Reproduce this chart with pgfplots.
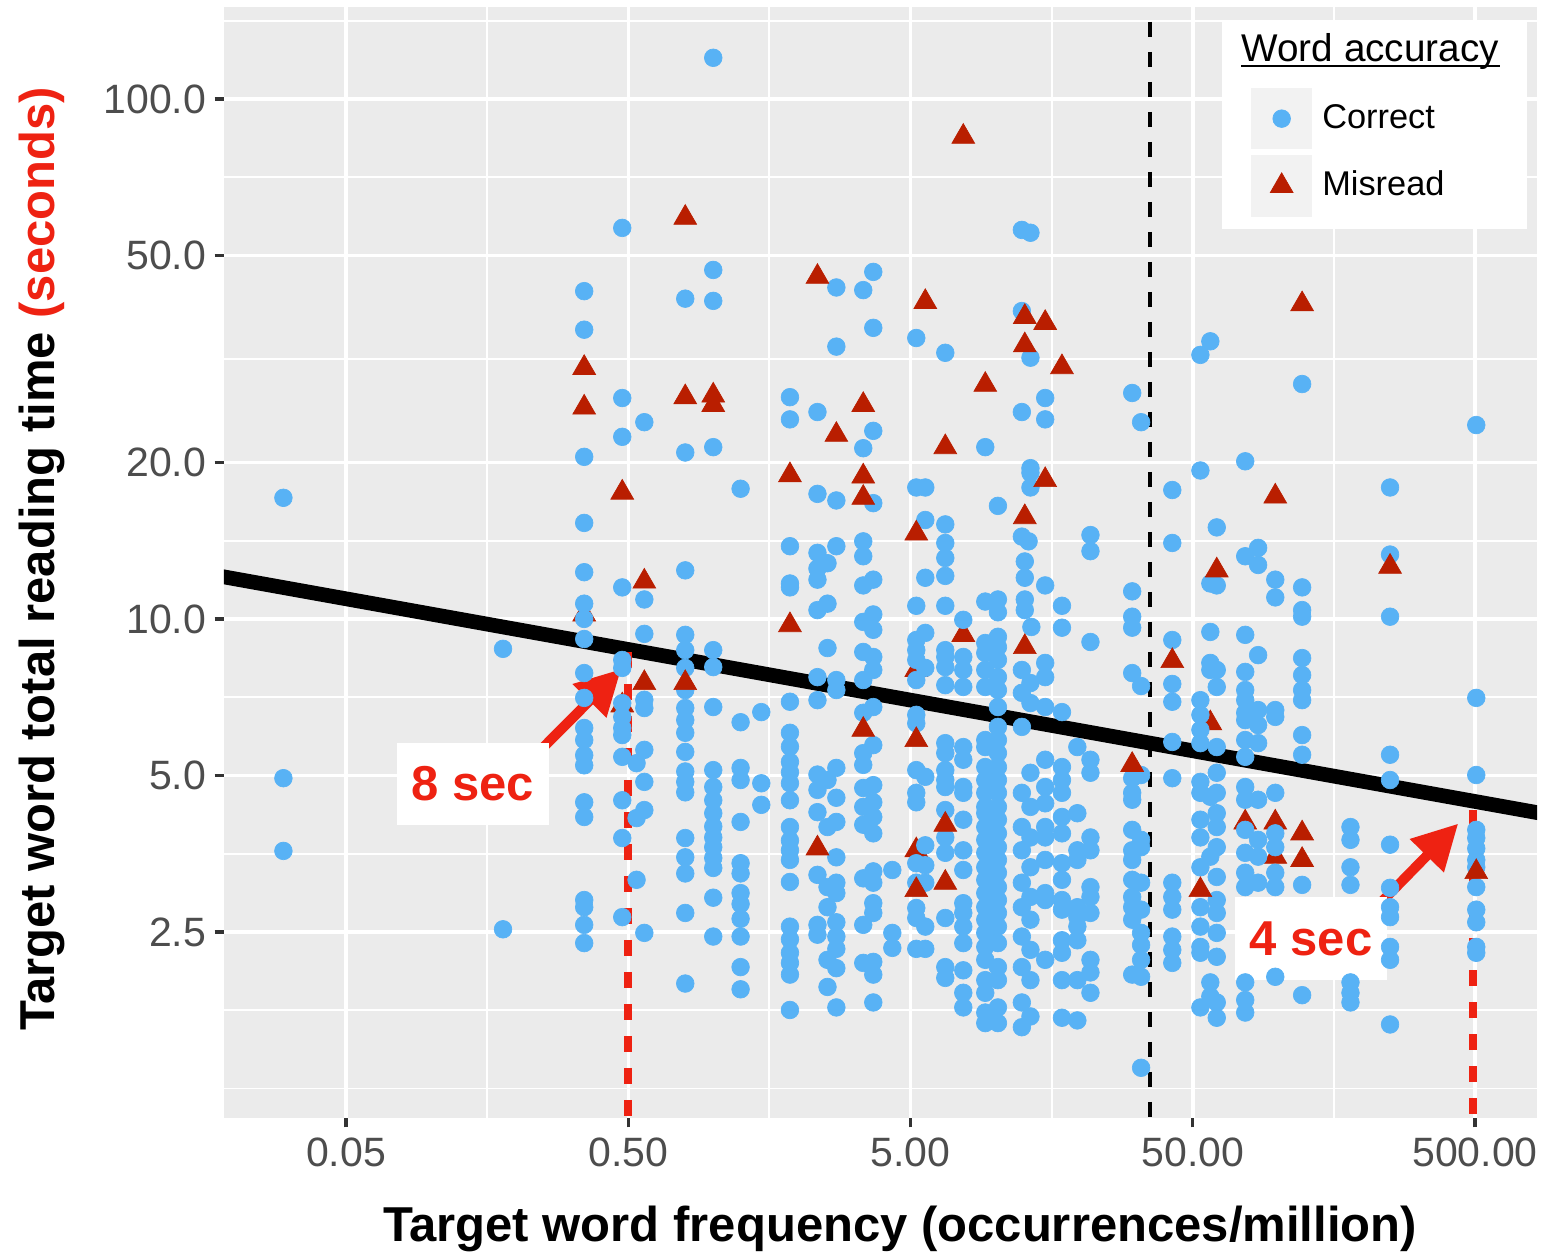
\documentclass[border=0pt]{standalone}
\usepackage{pgfplots}
\pgfplotsset{compat=1.18}
\usepackage{fontspec}
\setmainfont{Liberation Sans}
\usetikzlibrary{arrows.meta}
\definecolor{panelgray}{RGB}{235,235,235}
\definecolor{cblue}{RGB}{88,178,245}
\definecolor{cred}{RGB}{185,30,0}
\definecolor{annred}{RGB}{238,34,18}
\definecolor{keygray}{RGB}{242,242,242}
\definecolor{labelgray}{RGB}{77,77,77}
\definecolor{tickgray}{RGB}{51,51,51}
\begin{document}
\begin{tikzpicture}
\path[use as bounding box] (-67.2pt,-40.8pt) rectangle (395.1pt,335.4pt);
\begin{axis}[
  at={(0,0)}, anchor=south west, scale only axis,
  width=393.9pt, height=333.3pt,
  xmode=log, ymode=log,
  xmin=0.01848, xmax=829, ymin=1.097, ymax=150.3,
  axis background/.style={fill=panelgray},
  axis line style={draw=none},
  xtick={0.05,0.5,5,50,500}, xticklabels={0.05,0.50,5.00,50.00,500.00},
  ytick={2.5,5,10,20,50,100}, yticklabels={2.5,5.0,10.0,20.0,50.0,100.0},
  minor xtick={0.1581,1.581,15.81,158.1},
  minor ytick={1.25,1.768,3.536,7.071,14.14,31.62,70.71,141.4},
  grid=both,
  major grid style={white, line width=1.05pt},
  minor grid style={white, line width=0.55pt},
  tick align=outside, tick pos=left,
  major tick length=2.8pt, minor tick length=0pt,
  major tick style={color=tickgray, line width=1pt},
  ticklabel style={font=\fontsize{12.3}{14}\selectfont, text=labelgray},
  xticklabel style={inner sep=0pt, yshift=-3pt},
  yticklabel style={inner sep=0pt, xshift=-2.4pt},
  /pgf/number format/assume math mode=true,
  legend image code/.code={
    \fill[keygray] (0pt,-9pt) rectangle (18pt,9pt);
    \draw[mark repeat=2,mark phase=2] plot coordinates {(0pt,0pt) (9pt,0pt) (18pt,0pt)};
  },
  legend style={at={(0.78218,0.92709)}, anchor=north west, draw=none, fill=none,
    inner sep=0pt, outer sep=0pt, row sep=1.8pt, column sep=3pt,
    nodes={inner sep=0pt, font=\fontsize{10.3}{12}\selectfont},
    cells={anchor=west}},
  blue marks/.style={only marks, mark=*, color=cblue, mark size=2.65pt,
    mark options={solid, draw=cblue, fill=cblue, line width=0.2pt}},
  red marks/.style={only marks, mark=triangle*, color=cred, mark size=3.95pt,
    mark options={solid, draw=cred, fill=cred, line width=0.2pt}},
]
% triangles partly hidden under circles
\addplot[red marks, forget plot] coordinates {
(0.349,10.2)(0.476,6.82)(5.24,7.98)(5.24,3.59)(7.69,9.32)(57.7,6.30)(76.7,4.06)(98.0,4.06)(98.0,3.49)
};
% correct
\addplot[blue marks] coordinates {
(0.030,17.1)(0.030,4.94)(0.030,3.58)
(0.180,8.76)(0.180,2.53)
(0.349,42.7)(0.349,36.0)(0.349,20.5)(0.349,15.3)(0.349,12.3)(0.349,10.7)(0.349,10.0)(0.349,9.15)(0.349,7.87)(0.349,7.05)(0.349,6.17)(0.349,5.85)(0.349,5.47)(0.349,5.23)(0.349,4.44)(0.349,4.16)(0.349,2.88)(0.349,2.79)(0.349,2.58)(0.349,2.38)
(0.476,56.5)(0.476,26.6)(0.476,22.4)(0.476,11.5)(0.476,8.34)(0.476,8.05)(0.476,6.89)(0.476,6.48)(0.476,6.17)(0.476,5.98)(0.476,5.43)(0.476,4.48)(0.476,3.79)(0.476,2.67)
(0.570,23.9)(0.570,10.9)(0.570,9.36)(0.570,6.99)(0.570,6.74)(0.570,5.60)(0.570,4.86)(0.570,4.29)(0.570,2.49)
(0.535,5.28)(0.535,4.14)(0.535,3.15)
(0.796,41.3)(0.796,20.9)(0.796,12.4)(0.796,9.32)(0.796,8.71)(0.796,8.05)(0.796,7.30)(0.796,6.74)(0.796,6.39)(0.796,6.04)(0.796,5.55)(0.796,5.09)(0.796,4.86)(0.796,4.64)(0.796,3.79)(0.796,3.48)(0.796,3.24)(0.796,2.72)(0.796,1.99)
(1.00,120)(1.00,46.9)(1.00,40.9)(1.00,21.4)(1.00,8.71)(1.00,8.08)(1.00,6.77)(1.00,5.12)(1.00,4.75)(1.00,4.48)(1.00,4.23)(1.00,3.99)(1.00,3.80)(1.00,3.64)(1.00,3.47)(1.00,3.32)(1.00,2.91)(1.00,2.45)
(1.25,17.8)(1.25,6.33)(1.25,5.17)(1.25,4.90)(1.25,4.07)(1.25,3.39)(1.25,3.24)(1.25,2.97)(1.25,2.83)(1.25,2.65)(1.25,2.45)(1.25,2.14)(1.25,1.94)
(1.48,6.62)(1.48,4.83)(1.48,4.39)
(1.87,26.7)(1.87,24.2)(1.87,13.8)(1.87,11.7)(1.87,11.5)(1.87,6.93)(1.87,6.04)(1.87,5.68)(1.87,5.31)(1.87,5.07)(1.87,4.83)(1.87,4.48)(1.87,3.98)(1.87,3.75)(1.87,3.59)(1.87,3.44)(1.87,3.12)(1.87,2.56)(1.87,2.42)(1.87,2.28)(1.87,2.18)(1.87,2.07)(1.87,1.77)
(2.34,25.0)(2.34,17.4)(2.34,13.4)(2.34,12.5)(2.34,11.9)(2.34,10.4)(2.34,7.73)(2.34,6.98)(2.34,5.02)(2.34,4.69)(2.34,4.25)(2.34,3.22)(2.34,2.58)(2.34,2.47)
(2.54,12.8)(2.54,10.7)(2.54,8.79)(2.54,4.90)(2.54,3.98)(2.54,3.05)(2.54,2.79)(2.54,2.21)(2.54,1.96)
(2.73,43.4)(2.73,33.4)(2.73,16.9)(2.73,13.8)(2.73,7.63)(2.73,7.30)(2.73,5.17)(2.73,4.53)(2.73,4.07)(2.73,3.48)(2.73,3.11)(2.73,2.97)(2.73,2.61)(2.73,2.45)(2.73,2.32)(2.73,2.13)(2.73,1.79)
(3.40,42.9)(3.40,21.3)(3.40,14.1)(3.40,13.2)(3.40,11.6)(3.40,9.87)(3.40,8.64)(3.40,7.63)(3.40,6.60)(3.40,5.52)(3.40,5.24)(3.40,4.73)(3.40,4.35)(3.40,4.02)(3.40,3.17)(3.40,2.58)(3.40,2.18)
(3.69,46.5)(3.69,36.3)(3.69,23.0)(3.69,16.7)(3.69,11.9)(3.69,10.2)(3.69,9.53)(3.69,8.45)(3.69,7.98)(3.69,6.77)(3.69,5.72)(3.69,4.79)(3.69,4.44)(3.69,4.16)(3.69,3.87)(3.69,3.27)(3.69,3.11)(3.69,2.84)(3.69,2.72)(3.69,2.19)(3.69,2.07)(3.69,1.83)
(4.31,3.29)(4.31,2.49)(4.31,2.33)
(5.24,34.7)(5.24,17.9)(5.24,10.6)(5.24,9.11)(5.24,8.71)(5.24,8.34)(5.24,7.63)(5.24,6.54)(5.24,6.30)(5.24,5.12)(5.24,4.63)(5.24,4.44)(5.24,3.39)(5.24,3.11)(5.24,2.78)(5.24,2.66)(5.24,2.32)
(5.64,17.9)(5.64,15.5)(5.64,12.0)(5.64,9.40)(5.64,8.05)(5.64,4.97)(5.64,3.67)(5.64,3.36)(5.64,3.11)(5.64,2.56)(5.64,2.32)
(6.64,32.5)(6.64,15.2)(6.64,14.0)(6.64,13.1)(6.64,12.1)(6.64,10.6)(6.64,8.71)(6.64,8.45)(6.64,8.08)(6.64,7.46)(6.64,5.77)(6.64,5.52)(6.64,5.12)(6.64,4.90)(6.64,4.75)(6.64,4.29)(6.64,3.80)(6.64,3.55)(6.64,2.66)(6.64,2.14)(6.64,2.04)
(7.69,9.96)(7.69,8.45)(7.69,7.98)(7.69,7.40)(7.69,5.67)(7.69,5.36)(7.69,4.75)(7.69,4.63)(7.69,4.11)(7.69,3.59)(7.69,3.29)(7.69,2.84)(7.69,2.72)(7.69,2.56)(7.69,2.38)(7.69,2.11)(7.69,1.91)(7.69,1.79)
(9.20,21.4)(9.20,10.8)(9.20,8.99)(9.20,8.60)(9.20,7.98)(9.20,7.40)(9.20,5.85)(9.20,5.67)(9.20,5.19)(9.20,4.90)(9.20,4.63)(9.20,4.35)(9.20,4.23)(9.20,3.98)(9.20,3.76)(9.20,3.55)(9.20,3.33)(9.20,3.15)(9.20,2.97)(9.20,2.79)(9.20,2.64)(9.20,2.49)(9.20,2.34)(9.20,2.21)(9.20,2.02)(9.20,1.91)(9.20,1.75)(9.20,1.67)
(10.2,16.5)(10.2,10.9)(10.2,10.3)(10.2,9.24)(10.2,8.83)(10.2,8.34)(10.2,7.73)(10.2,7.30)(10.2,6.77)(10.2,6.20)(10.2,5.85)(10.2,5.52)(10.2,5.19)(10.2,4.90)(10.2,4.63)(10.2,4.35)(10.2,4.11)(10.2,3.87)(10.2,3.64)(10.2,3.44)(10.2,3.25)(10.2,3.05)(10.2,2.88)(10.2,2.72)(10.2,2.56)(10.2,2.38)(10.2,2.14)(10.2,2.02)(10.2,1.79)(10.2,1.67)
(12.4,56.0)(13.3,55.3)(12.4,39.1)(13.3,31.8)(12.4,25.0)(13.3,19.5)(13.3,19.1)(13.3,17.9)(12.4,14.4)(13.1,14.1)(12.7,12.9)(12.7,12.0)(12.7,10.9)(12.7,10.4)(13.4,9.65)(12.4,7.98)(13.3,7.53)(12.4,7.21)(13.3,6.89)(12.4,6.20)(13.3,5.06)(12.4,4.63)(13.3,4.35)(12.4,3.98)(13.3,3.80)(12.4,3.59)(13.3,3.33)(12.4,3.11)(13.3,2.92)(12.4,2.79)(13.3,2.64)(12.4,2.45)(13.3,2.31)(12.4,2.14)(13.3,2.02)(12.4,1.83)(13.3,1.72)(12.4,1.64)
(15.0,26.6)(15.0,24.2)(15.0,11.6)(15.0,8.23)(15.0,7.73)(15.0,6.77)(15.0,5.36)(15.0,4.75)(15.0,4.42)(15.0,3.98)(15.0,3.80)(15.0,3.44)(15.0,2.97)(15.0,2.88)(15.0,2.21)
(17.2,10.6)(17.2,9.62)(17.2,6.62)(17.2,5.19)(17.2,4.90)(17.2,4.63)(17.2,4.16)(17.2,3.87)(17.2,3.39)(17.2,3.15)(17.2,2.88)(17.2,2.76)(17.2,2.41)(17.2,2.28)(17.2,2.02)(17.2,1.71)
(19.5,5.67)(19.5,4.23)(19.5,3.59)(19.5,3.44)(19.5,2.79)(19.5,2.67)(19.5,2.56)(19.5,2.41)(19.5,2.02)(19.5,1.69)
(21.7,14.5)(21.7,13.5)(21.7,9.03)(21.7,5.36)(21.7,5.06)(21.7,3.80)(21.7,3.59)(21.7,3.05)(21.7,2.92)(21.7,2.72)(21.7,2.21)(21.7,2.09)(21.7,1.91)
(30.5,27.2)(30.5,11.3)(30.5,10.1)(30.5,9.62)(30.5,7.87)(30.5,4.94)(30.5,4.63)(30.5,4.49)(30.5,3.93)(30.5,3.59)(30.5,3.44)(30.5,3.15)(30.5,2.92)(30.5,2.79)(30.5,2.64)(30.5,2.07)
(32.8,23.9)(32.8,7.43)(32.8,5.01)(32.8,3.76)(32.8,3.64)(32.8,3.11)(32.8,2.76)(32.8,2.49)(32.8,2.36)(32.8,2.21)(32.8,2.05)(32.8,1.37)
(42.3,17.7)(42.3,14.0)(42.3,9.11)(42.3,7.50)(42.3,6.93)(42.3,5.80)(42.3,4.94)(42.3,3.11)(42.3,2.92)(42.3,2.76)(42.3,2.45)(42.3,2.31)(42.3,2.18)
(53.2,32.2)(53.2,19.3)(53.2,6.98)(53.2,6.54)(53.2,6.12)(53.2,5.77)(53.2,4.86)(53.2,4.63)(53.2,4.11)(53.2,3.80)(53.2,3.33)(53.2,2.79)(53.2,2.56)(53.2,2.34)(53.2,2.28)(53.2,1.79)
(57.7,34.2)(57.7,11.7)(57.7,9.44)(57.7,8.23)(57.7,7.98)(57.7,4.55)(57.7,3.49)(57.7,2.00)(57.7,1.88)
(60.8,15.0)(60.8,11.6)(60.8,7.98)(60.8,7.40)(60.8,5.67)(60.8,5.06)(60.8,4.63)(60.8,4.23)(60.8,3.98)(60.8,3.64)(60.8,3.19)(60.8,2.88)(60.8,2.72)(60.8,2.49)(60.8,2.24)(60.8,1.83)(60.8,1.71)
(76.7,20.1)(76.7,13.2)(76.7,9.32)(76.7,7.91)(76.7,7.30)(76.7,6.98)(76.7,6.60)(76.7,6.39)(76.7,5.85)(76.7,5.43)(76.7,4.75)(76.7,4.49)(76.7,3.93)(76.7,3.55)(76.7,3.25)(76.7,3.05)(76.7,2.00)(76.7,1.85)(76.7,1.75)
(85.2,13.7)(85.2,12.7)(85.2,8.52)(85.2,6.68)(85.2,6.25)(85.2,5.77)(85.2,4.49)(85.2,3.76)(85.2,3.49)(85.2,3.11)
(98.0,11.9)(98.0,11.0)(98.0,6.68)(98.0,6.48)(98.0,4.63)(98.0,3.87)(98.0,3.64)(98.0,3.25)(98.0,3.05)(98.0,2.05)
(122,28.3)(122,11.5)(122,10.4)(122,10.1)(122,8.41)(122,7.80)(122,7.30)(122,6.98)(122,5.98)(122,5.48)(122,3.08)(122,1.89)
(181,3.98)(181,3.76)(181,3.33)(181,3.08)(181,2.00)(181,1.91)(181,1.83)
(250,17.9)(250,13.3)(250,10.1)(250,5.48)(250,4.90)(250,3.68)(250,3.04)(250,2.79)(250,2.67)(250,2.34)(250,2.21)(250,1.66)
(505,23.6)(505,7.05)(505,5.01)(505,3.93)(505,3.79)(505,3.62)(505,3.44)(505,3.33)(505,3.05)(505,2.76)(505,2.61)(505,2.34)(505,2.28)
};
\addlegendentry{Correct}
% misread
\addplot[red marks] coordinates {
(0.349,30.4)(0.349,25.5)(0.476,17.5)(0.570,11.8)(0.570,7.53)(0.796,59.1)(0.796,26.7)(0.796,7.53)
(1.00,26.9)(1.00,25.8)(1.87,18.9)(1.87,9.73)(2.34,45.5)(2.34,3.62)(2.73,22.6)
(3.40,25.8)(3.40,18.8)(3.40,17.1)(3.40,6.12)(5.24,14.6)(5.24,5.85)(5.24,3.01)(5.64,40.7)
(6.64,21.4)(6.64,4.02)(6.64,3.11)(7.69,84.6)(9.20,28.2)(12.7,38.1)(12.7,33.6)(12.7,15.7)(12.7,8.83)
(15.0,37.1)(15.0,18.5)(17.2,30.5)(30.5,5.24)(42.3,8.30)(53.2,3.01)(60.8,12.4)(98.0,17.2)
(122,40.3)(122,3.87)(122,3.44)(250,12.6)(505,3.26)
};
\addlegendentry{Misread}
% fitted line
\addplot[black, line width=4.4pt, forget plot] coordinates {(0.01,12.79) (1000,4.165)};
% reference lines
\addplot[black, line width=1.3pt, dash pattern=on 4.5pt off 4.5pt, dash phase=4.5pt, forget plot] coordinates {(35.3,150.3) (35.3,1.097)};
\addplot[annred, line width=2.4pt, dash pattern=on 4.8pt off 4.8pt, forget plot] coordinates {(0.5,8.64) (0.5,1.097)};
\addplot[annred, line width=2.4pt, dash pattern=on 4.8pt off 4.8pt, forget plot] coordinates {(493,4.29) (493,1.097)};
% arrows
\draw[annred, line width=3pt, -{Triangle[length=13.5pt,width=13.5pt]}] (axis cs:0.248,5.64) -- (axis cs:0.472,8.01);
\draw[annred, line width=3pt, -{Triangle[length=13.5pt,width=13.5pt]}] (axis cs:231,2.84) -- (axis cs:436,4.04);
% labels
\node[fill=white, inner sep=0pt, minimum width=45.6pt, minimum height=24.6pt, text=annred, font=\fontsize{14.7}{16}\selectfont\bfseries] at (rel axis cs:0.18964,0.30063) {8 sec};
\node[fill=white, inner sep=0pt, minimum width=45.6pt, minimum height=24.9pt, text=annred, font=\fontsize{14.7}{16}\selectfont\bfseries] at (rel axis cs:0.82788,0.16157) {4 sec};
% legend background and title
\fill[white] (rel axis cs:0.76009,0.80018) rectangle (rel axis cs:0.99238,0.98650);
\node[anchor=base west, inner sep=0pt, font=\fontsize{11.6}{14}\selectfont] (lt) at (rel axis cs:0.77456,0.95050) {Word accuracy};
\draw[line width=0.6pt] ([yshift=-1.2pt]lt.base west) -- ([yshift=-1.2pt]lt.base east);
\end{axis}
\node[anchor=base, font=\fontsize{14.7}{16}\selectfont\bfseries] at (202.8pt,-37.2pt) {Target word frequency (occurrences/million)};
\node[anchor=base, rotate=90, font=\fontsize{14.7}{16}\selectfont\bfseries] at (-50.7pt,167.7pt) {Target word total reading time \textcolor{annred}{(seconds)}};
\end{tikzpicture}
\end{document}
